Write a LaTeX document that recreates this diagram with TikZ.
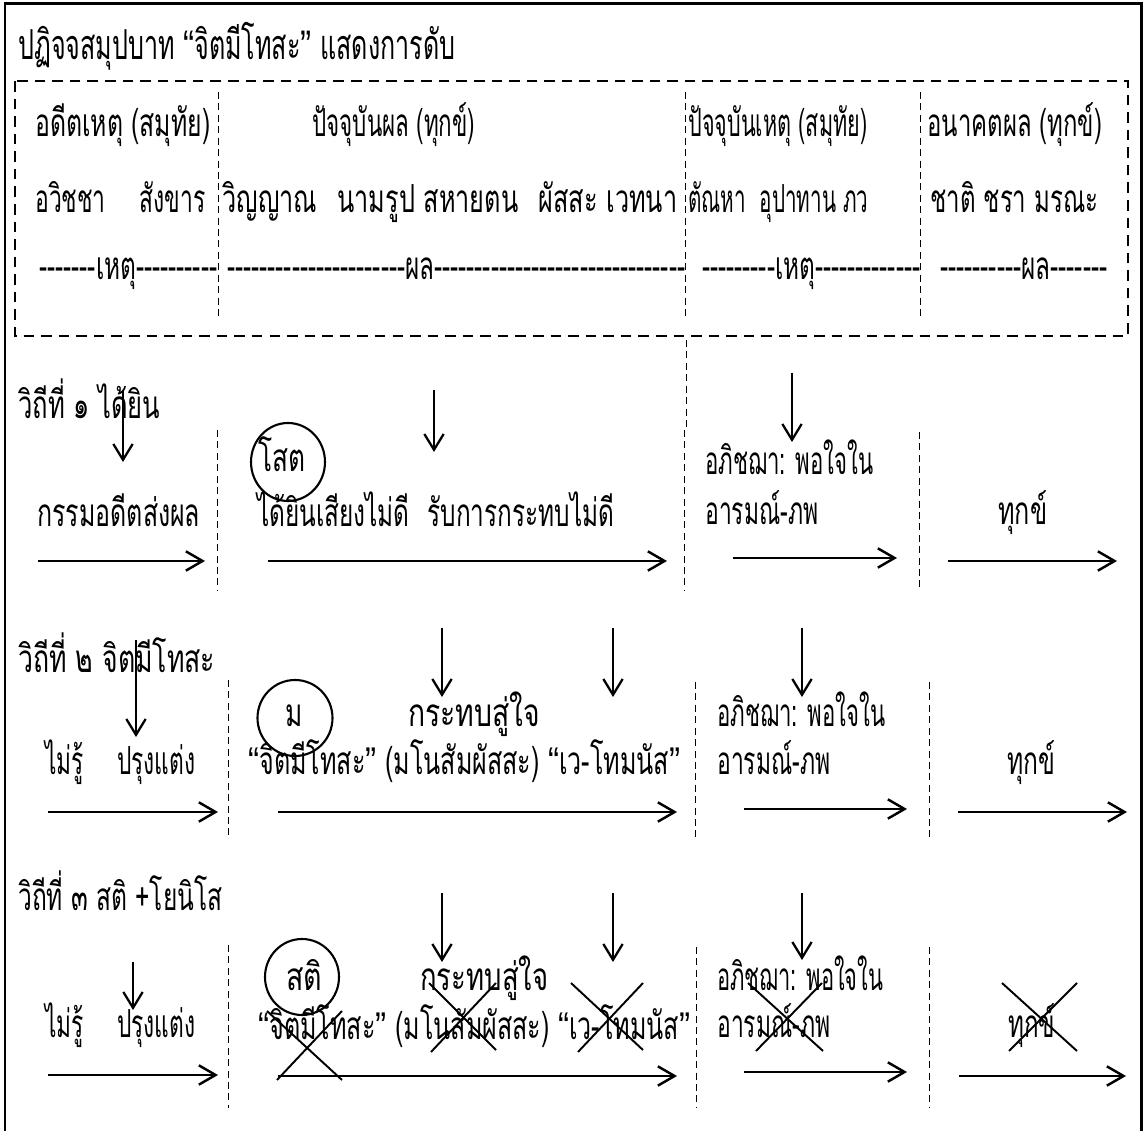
\documentclass[tikz,border=0pt]{standalone}
\usepackage{fontspec}
\newfontfamily\thai[Script=Thai,FakeStretch=0.68,Ligatures=TeXOff]{Loma}
\newfontfamily\qfont[FakeStretch=0.9]{Liberation Sans}
\newcommand\qo{{\qfont “}}
\newcommand\qc{{\qfont ”}}
\newsavebox\fitbox
\newcommand\fitw[2]{\sbox\fitbox{#2}\scalebox{\fpeval{round(#1*0.5690551/(\the\wd\fitbox),4)}}[1]{\usebox\fitbox}}
\usetikzlibrary{arrows.meta,shapes.geometric}
\newcommand\myarrow[4][arr]{\coordinate (#2s) at (#3); \coordinate (#2e) at (#4); \draw[#1] (#2s) -- (#2e);}
\begin{document}
\begin{tikzpicture}[x=0.02cm,y=-0.02cm,
  t/.style={inner sep=0pt, anchor=base west, font=\thai\fontsize{22}{25}\selectfont},
  ttl/.style={t, font=\thai\fontsize{23.5}{27}\selectfont},
  arr/.style={line width=1.5pt, -{Straight Barb[length=9.5pt,width=11pt,line width=1.4pt]}},
  darr/.style={line width=1.3pt, -{Straight Barb[length=9pt,width=11pt,line width=1.3pt]}},
  vsep/.style={line width=0.5pt, dash pattern=on 4pt off 2.5pt},
  boxline/.style={line width=1.1pt, dash pattern=on 6pt off 4pt},
  xl/.style={line width=1.1pt},
  circ/.style={draw, ellipse, line width=1.2pt, inner sep=0pt}]
\fill[white] (0,0) rectangle (1144,1131);
\useasboundingbox (0,0) rectangle (1144,1131);
% outer frame
\draw[line width=1.7pt] (5,1131) -- (5,4) -- (1141,4) -- (1141,1131);
% title
\node[ttl] (title) at (18,60) {\fitw{437}{ปฏิจจสมุปบาท \qo จิตมีโทสะ\qc\ แสดงการดับ}};
% header box
\draw[boxline] (15,81) rectangle (1128,336);
\myarrow[vsep]{h1}{218,92}{218,318}
\myarrow[vsep]{h2}{685,92}{685,318}
\myarrow[vsep]{h3}{920,92}{920,318}
\node[t] (ha1) at (35,137) {\fitw{175}{อดีตเหตุ (สมุทัย)}};
\node[t] (ha2) at (312,137) {\fitw{163}{ปัจจุบันผล (ทุกข์)}};
\node[t] (ha3) at (688,137) {\fitw{179}{ปัจจุบันเหตุ (สมุทัย)}};
\node[t] (ha4) at (927,137) {\fitw{175}{อนาคตผล (ทุกข์)}};
\node[t] (hb1) at (35,213) {\fitw{170}{อวิชชา\hspace{1em}สังขาร}};
\node[t] (hb2) at (222,213) {\fitw{455}{วิญญาณ\hspace{0.55em}นามรูป สหายตน\hspace{0.55em}ผัสสะ เวทนา}};
\node[t] (hb3) at (688,213) {\fitw{180}{ตัณหา\hspace{0.45em}อุปาทาน ภว}};
\node[t] (hb4) at (930,213) {\fitw{168}{ชาติ ชรา มรณะ}};
\node[t] (hc1) at (39,280) {\fitw{178}{-------เหตุ----------}};
\node[t] (hc2) at (227,280) {\fitw{458}{----------------------ผล-------------------------------}};
\node[t] (hc3) at (702,280) {\fitw{218}{---------เหตุ-------------}};
\node[t] (hc4) at (940,280) {\fitw{167}{----------ผล-------}};
% ---------- row 1
\node[t] (l1) at (18,419) {\fitw{142}{วิถีที่ ๑ ได้ยิน}};
\myarrow[darr]{d1a}{123,390}{123,462}
\myarrow[vsep]{v1a}{217,430}{217,590}
\node[t] (r1a) at (37,527) {\fitw{163}{กรรมอดีตส่งผล}};
\myarrow{a1a}{38,561}{205,561}
\node[circ, minimum width=74*0.02cm, minimum height=78*0.02cm] (c1) at (288,462) {};
\node[t] (c1t) at (258,472) {\fitw{47}{โสต}};
\myarrow[darr]{d1b}{434,390}{434,452}
\node[t] (r1b) at (257,527) {\fitw{357}{ได้ยินเสียงไม่ดี\hspace{0.5em}รับการกระทบไม่ดี}};
\myarrow{a1b}{268,561}{667,561}
\myarrow[vsep]{v1b}{686,340}{686,430}
\myarrow[vsep]{v1c}{684,430}{684,590}
\myarrow[darr]{d1c}{792,373}{792,442}
\node[t] (r1c) at (705,475) {\fitw{168}{อภิชฌา: พอใจใน}};
\node[t] (r1d) at (705,525) {\fitw{113}{อารมณ์-ภพ}};
\myarrow{a1c}{733,558}{897,558}
\myarrow[vsep]{v1d}{919,432}{919,590}
\node[t] (r1e) at (998,525) {\fitw{49}{ทุกข์}};
\myarrow{a1d}{948,561}{1117,561}
% ---------- row 2
\node[t] (l2) at (18,673) {\fitw{197}{วิถีที่ ๒ จิตมีโทสะ}};
\myarrow[darr]{d2a}{136,640}{136,737}
\myarrow[vsep]{v2a}{228,680}{228,835}
\node[t] (r2a) at (45,775) {\fitw{150}{ไม่รู้\hspace{1em}ปรุงแต่ง}};
\myarrow{a2a}{48,812}{218,812}
\node[circ, minimum width=75*0.02cm, minimum height=76*0.02cm] (c2) at (295,718) {};
\node[t] (c2t) at (285,727) {ม};
\myarrow[darr]{d2b}{442,628}{442,697}
\myarrow[darr]{d2c}{613,628}{613,697}
\node[t] (r2b) at (408,727) {\fitw{132}{กระทบสู่ใจ}};
\node[t] (r2c) at (248,775) {\fitw{432}{\qo จิตมีโทสะ\qc\ (มโนสัมผัสสะ) \qo เว-โทมนัส\qc}};
\myarrow{a2b}{278,812}{677,812}
\myarrow[vsep]{v2b}{695,682}{695,840}
\myarrow[darr]{d2d}{802,628}{802,697}
\node[t] (r2d) at (717,727) {\fitw{168}{อภิชฌา: พอใจใน}};
\node[t] (r2e) at (717,775) {\fitw{113}{อารมณ์-ภพ}};
\myarrow{a2c}{744,809}{907,809}
\myarrow[vsep]{v2c}{929,682}{929,840}
\node[t] (r2f) at (1007,775) {\fitw{48}{ทุกข์}};
\myarrow{a2d}{958,812}{1127,812}
% ---------- row 3
\node[t] (l3) at (18,911) {\fitw{204}{วิถีที่ ๓ สติ +โยนิโส}};
\myarrow[darr]{d3a}{133,962}{133,1010}
\node[t] (r3a) at (45,1038) {\fitw{150}{ไม่รู้\hspace{1em}ปรุงแต่ง}};
\myarrow{a3a}{48,1075}{218,1075}
\myarrow[vsep]{v3a}{228,945}{228,1108}
\node[circ, minimum width=74*0.02cm, minimum height=76*0.02cm] (c3) at (302,977) {};
\node[t] (c3t) at (286,990) {\fitw{36}{สติ}};
\myarrow[darr]{d3b}{442,893}{442,962}
\myarrow[darr]{d3c}{613,893}{613,962}
\node[t] (r3b) at (420,990) {\fitw{128}{กระทบสู่ใจ}};
\node[t] (r3c) at (258,1040) {\fitw{432}{\qo จิตมีโทสะ\qc\ (มโนสัมผัสสะ) \qo เว-โทมนัส\qc}};
\myarrow{a3b}{278,1076}{677,1076}
\myarrow[xl]{x1a}{267,1011}{342,1080}
\myarrow[xl]{x1b}{342,1011}{277,1080}
\myarrow[xl]{x2a}{429,983}{496,1050}
\myarrow[xl]{x2b}{496,983}{431,1052}
\myarrow[xl]{x3a}{571,983}{643,1050}
\myarrow[xl]{x3b}{643,983}{578,1052}
\myarrow[vsep]{v3b}{696,947}{696,1107}
\myarrow[darr]{d3d}{802,893}{802,960}
\node[t] (r3d) at (717,990) {\fitw{166}{อภิชฌา: พอใจใน}};
\node[t] (r3e) at (717,1038) {\fitw{113}{อารมณ์-ภพ}};
\myarrow[xl]{x4a}{748,983}{823,1051}
\myarrow[xl]{x4b}{822,983}{756,1051}
\myarrow{a3c}{744,1072}{907,1072}
\myarrow[vsep]{v3c}{929,947}{929,1107}
\node[t] (r3f) at (1008,1038) {\fitw{47}{ทุกข์}};
\myarrow[xl]{x5a}{1002,983}{1077,1051}
\myarrow[xl]{x5b}{1077,983}{1009,1051}
\myarrow{a3d}{959,1076}{1126,1076}
\end{tikzpicture}
\end{document}
